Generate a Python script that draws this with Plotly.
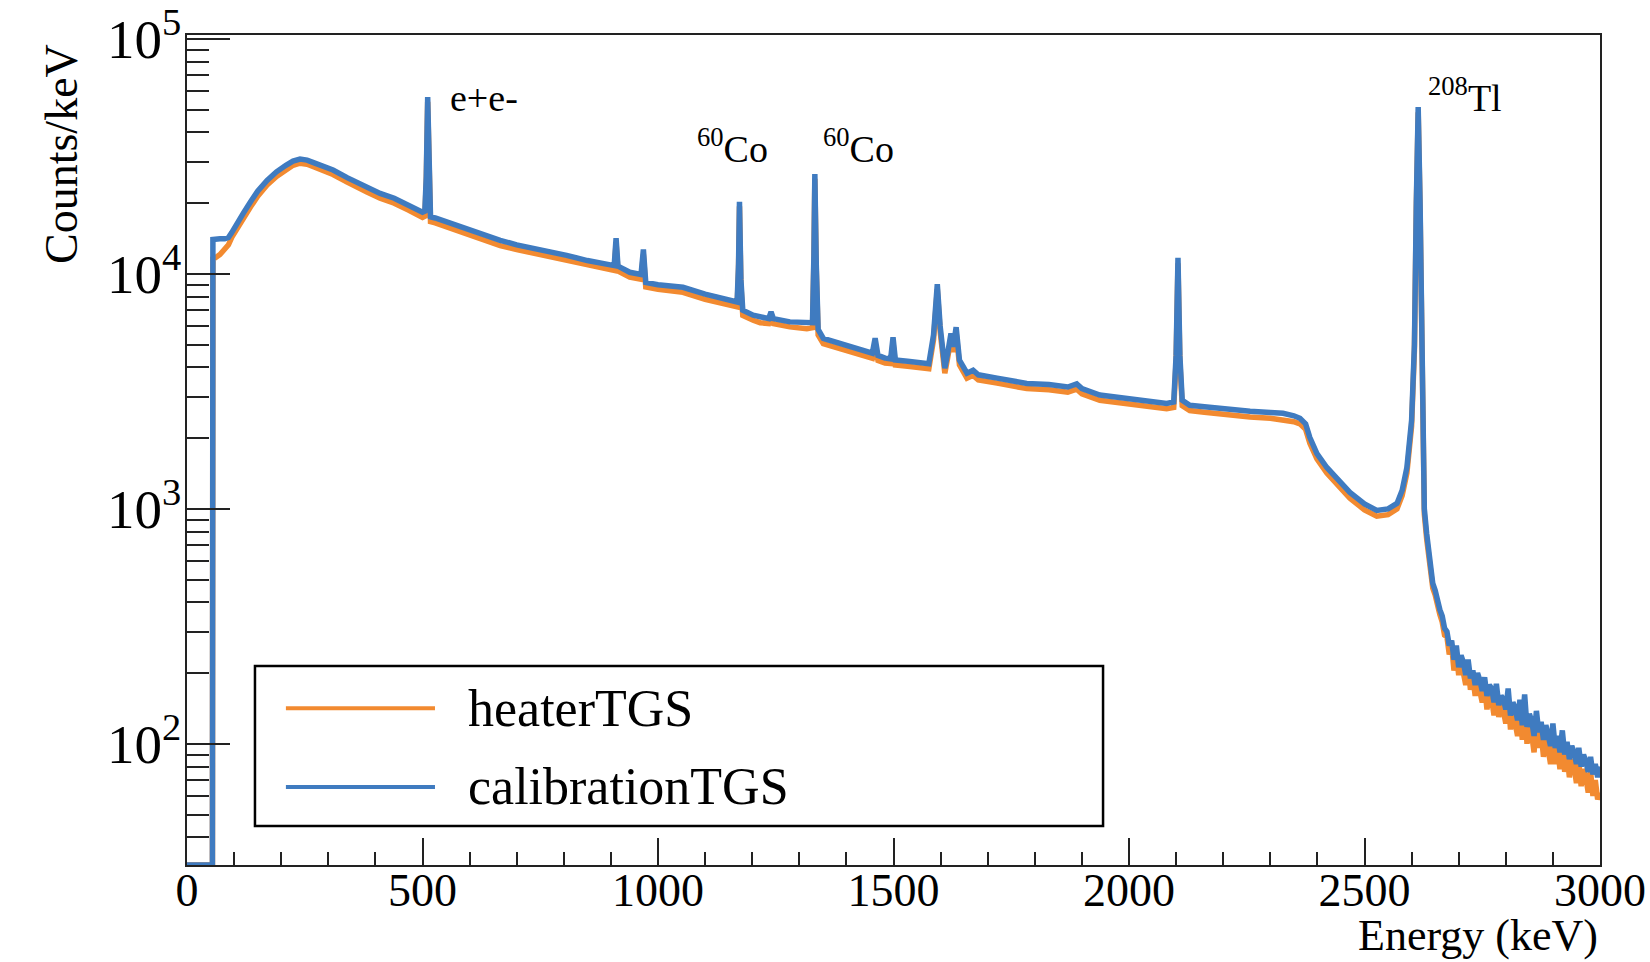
import math
import plotly.graph_objects as go

# ---------------- data ----------------
energy_kev = [
    0, 54, 55, 60, 70, 80, 88, 95, 105, 120, 135, 150, 170, 190, 210, 225, 240, 255, 270, 290,
    310, 340, 360, 382, 410, 440, 470, 500, 505, 508, 511, 514, 517, 527, 560, 600, 665, 700,
    750, 806, 850, 900, 907, 911, 915, 940, 964, 969, 974, 1000, 1053, 1100, 1153, 1168, 1171,
    1173, 1176, 1180, 1202, 1217, 1235, 1240, 1245, 1280, 1316, 1328, 1331, 1333, 1336, 1340,
    1351, 1380, 1429, 1455, 1461, 1467, 1482, 1494, 1499, 1504, 1530, 1556, 1575, 1585, 1593,
    1599, 1606, 1609, 1615, 1622, 1627, 1633, 1640, 1656, 1669, 1680, 1720, 1760, 1783, 1830,
    1870, 1889, 1900, 1938, 1980, 2023, 2060, 2080, 2095, 2100, 2104, 2108, 2113, 2129, 2160,
    2221, 2257, 2300, 2327, 2350, 2363, 2375, 2384, 2399, 2420, 2441, 2469, 2500, 2526, 2550,
    2569, 2580, 2590, 2600, 2606, 2610, 2614, 2618, 2622, 2627, 2632, 2645,
    2650, 2655, 2660, 2665, 2670, 2675, 2680, 2685, 2690, 2695, 2700, 2705, 2710, 2715, 2720,
    2725, 2730, 2735, 2740, 2745, 2750, 2755, 2760, 2765, 2770, 2775, 2780, 2785, 2790, 2795,
    2800, 2805, 2810, 2815, 2820, 2825, 2830, 2835, 2840, 2845, 2850, 2855, 2860, 2865, 2870,
    2875, 2880, 2885, 2890, 2895, 2900, 2905, 2910, 2915, 2920, 2925, 2930, 2935, 2940, 2945,
    2950, 2955, 2960, 2965, 2970, 2975, 2980, 2985, 2990, 2995, 3000,
]

calibration_tgs = [
    30.5, 30.5, 14000, 14100, 14100, 14100, 14300, 15000, 16300, 18200, 20300, 22500, 25000,
    27200, 29000, 30200, 30800, 30500, 29700, 28700, 27700, 25700, 24500, 23400, 22000, 21000,
    19600, 18300, 18500, 26000, 56600, 24000, 17500, 17300, 16400, 15300, 13900, 13300, 12700,
    12000, 11400, 10900, 10850, 14200, 10800, 10160, 9950, 12700, 9200, 9000, 8770, 8200, 7720,
    7600, 11000, 20300, 9500, 7000, 6670, 6530, 6450, 6900, 6450, 6250, 6160, 6200, 12000,
    26600, 11000, 5800, 5320, 5100, 4730, 4600, 5320, 4500, 4380, 4350, 5370, 4300, 4250, 4200,
    4150, 5500, 9040, 6000, 4100, 3970, 4600, 5580, 4900, 5930, 4300, 3780, 3890, 3720, 3600,
    3480, 3420, 3380, 3300, 3400, 3250, 3050, 2980, 2900, 2850, 2810, 2850, 4500, 11700, 4500,
    2900, 2760, 2720, 2630, 2600, 2570, 2550, 2490, 2430, 2300, 2010, 1720, 1500, 1350, 1175,
    1050, 985, 1000, 1055, 1200, 1500, 2380, 5000, 20000, 51300, 20000, 3000, 1000, 785, 481,
    450, 400, 372, 350, 310, 300, 262, 275, 228, 262, 212, 238, 222, 196, 228, 190, 205, 178,
    200, 186, 168, 192, 160, 178, 172, 150, 180, 146, 160, 155, 140, 172, 132, 150, 142, 126,
    154, 120, 162, 118, 134, 125, 108, 138, 112, 124, 104, 120, 110, 98, 122, 96, 108, 92,
    114, 90, 102, 86, 98, 92, 82, 96, 80, 90, 84, 76, 88, 74, 82, 72, 80,
]

heater_tgs = [
    30.5, 30.5, 11600, 11700, 12100, 12700, 13300, 14300, 15500, 17300, 19300, 21400, 23900,
    26000, 27800, 29000, 29600, 29300, 28500, 27500, 26500, 24600, 23400, 22300, 21000, 20000,
    18700, 17400, 17600, 24800, 54000, 23000, 16700, 16500, 15600, 14600, 13200, 12700, 12100,
    11400, 10900, 10400, 10350, 13500, 10300, 9700, 9500, 12100, 8800, 8600, 8350, 7800, 7350,
    7250, 10500, 19400, 9000, 6650, 6350, 6200, 6150, 6550, 6150, 5950, 5850, 5900, 11400,
    25400, 10500, 5500, 5050, 4850, 4500, 4380, 5050, 4280, 4170, 4150, 5100, 4100, 4050, 4000,
    3950, 5250, 8600, 5700, 3900, 3780, 4400, 5300, 4650, 5650, 4100, 3600, 3700, 3540, 3430,
    3300, 3250, 3210, 3140, 3230, 3090, 2900, 2830, 2750, 2700, 2670, 2700, 4250, 11100, 4250,
    2750, 2620, 2580, 2490, 2460, 2430, 2400, 2350, 2300, 2180, 1900, 1630, 1420, 1280, 1110,
    990, 930, 945, 1000, 1140, 1420, 2250, 4750, 19000, 48800, 19000, 2850, 950, 745, 460,
    430, 385, 355, 330, 290, 285, 240, 262, 205, 245, 196, 225, 200, 178, 212, 170, 192, 160,
    186, 170, 150, 178, 140, 165, 155, 132, 165, 130, 148, 138, 122, 158, 115, 138, 125, 108,
    140, 104, 145, 100, 122, 110, 92, 125, 96, 112, 88, 108, 95, 82, 110, 82, 96, 78,
    100, 76, 90, 72, 86, 80, 68, 84, 66, 78, 72, 62, 76, 60, 70, 58, 62,
]

series_names = ["heaterTGS", "calibrationTGS"]
series_values = [heater_tgs, calibration_tgs]
series_colors = ["#F28A30", "#3F7BC0"]

peak_labels = ["e+e-", "<sup>60</sup>Co", "<sup>60</sup>Co", "<sup>208</sup>Tl"]
label_energy = [554, 1079, 1346, 2631]
label_counts = [56000, 35000, 35000, 58000]

FONT = "Liberation Serif"

fig = go.Figure()
for name, vals, col in zip(series_names, series_values, series_colors):
    fig.add_trace(go.Scatter(
        x=energy_kev, y=vals, mode="lines", name=name,
        line=dict(color=col, width=5.5, shape="linear"),
        showlegend=False,
    ))

annotations = []
for txt, ex, cy in zip(peak_labels, label_energy, label_counts):
    annotations.append(dict(
        x=ex, y=math.log10(cy), xref="x", yref="y", text=txt, showarrow=False,
        xanchor="left", yanchor="middle", font=dict(family=FONT, size=38, color="black"),
    ))

# axis titles (ROOT style: right / top aligned)
annotations.append(dict(
    x=0, y=1, xref="paper", yref="paper", text="Counts/keV", textangle=-90,
    showarrow=False, xanchor="center", yanchor="top", xshift=-126, yshift=-7,
    font=dict(family=FONT, size=46, color="black"),
))
annotations.append(dict(
    x=1, y=0, xref="paper", yref="paper", text="Energy (keV)",
    showarrow=False, xanchor="right", yanchor="bottom", yshift=-97,
    font=dict(family=FONT, size=44, color="black"),
))

# custom legend (long line samples, as in the reference)
shapes = [dict(type="rect", xref="paper", yref="paper", x0=0.0481, x1=0.6483,
               y0=0.047, y1=0.2398, line=dict(color="black", width=2.5),
               fillcolor="white", layer="above")]
legend_y = [0.189, 0.094]
for name, col, ly in zip(series_names, series_colors, legend_y):
    shapes.append(dict(type="line", xref="paper", yref="paper", x0=0.070, x1=0.1755,
                       y0=ly, y1=ly, line=dict(color=col, width=4), layer="above"))
    annotations.append(dict(x=0.1975, y=ly, xref="paper", yref="paper", text=name,
                            showarrow=False, xanchor="left", yanchor="middle",
                            font=dict(family=FONT, size=52, color="black")))

fig.update_layout(
    width=1650, height=962,
    margin=dict(l=187, r=50, t=35, b=97, autoexpand=False),
    paper_bgcolor="white", plot_bgcolor="white",
    font=dict(family=FONT, color="black"),
    showlegend=False,
    annotations=annotations,
    shapes=shapes,
    xaxis=dict(
        range=[0, 3000], showgrid=False, zeroline=False, automargin=False,
        showline=True, linecolor="#222", linewidth=2, mirror=True,
        ticks="inside", ticklen=27, tickwidth=2, tickcolor="#222",
        dtick=500, tick0=0, tickfont=dict(family=FONT, size=46, color="black"),
        ticklabelstandoff=-16,
        minor=dict(dtick=100, tick0=0, ticks="inside", ticklen=13, tickwidth=2,
                   tickcolor="#222", showgrid=False),
    ),
    yaxis=dict(
        type="log", range=[1.484, 5.017], showgrid=False, zeroline=False, automargin=False,
        showline=True, linecolor="#222", linewidth=2, mirror=True,
        ticks="inside", ticklen=43, tickwidth=2, tickcolor="#222",
        dtick=1, exponentformat="power", showexponent="all",
        tickfont=dict(family=FONT, size=44, color="black"),
        ticklabelstandoff=-5,
        minor=dict(dtick="D1", ticks="inside", ticklen=22, tickwidth=2,
                   tickcolor="#222", showgrid=False),
    ),
)

fig.write_html("out.html")
